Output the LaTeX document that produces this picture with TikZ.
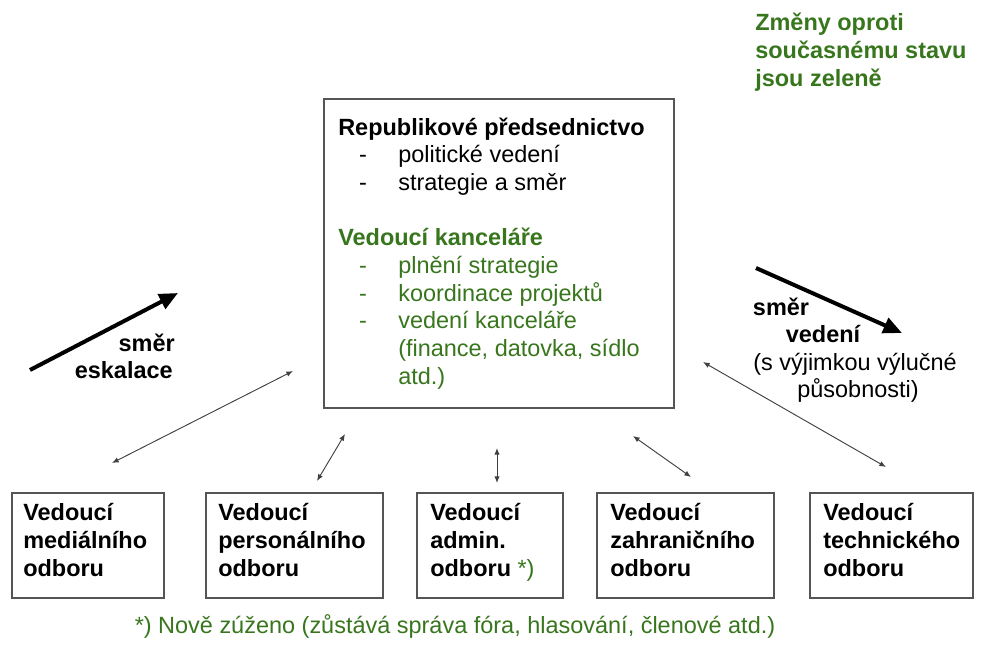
\documentclass[tikz,border=0pt]{standalone}
\usepackage{fontspec}
\setmainfont{Liberation Sans}
\usetikzlibrary{arrows.meta}
\definecolor{grn}{HTML}{38761D}
\definecolor{bord}{HTML}{555555}
\newcommand{\pxbox}[5]{\node[frame, minimum width={(#4-#2)*0.75pt}, minimum height={(#5-#3)*0.75pt}] (#1) at ({(#2+#4)/2},{(#3+#5)/2}) {};}
\tikzset{
  txt/.style={inner sep=0pt, font=\fontsize{17.6}{20.8}\selectfont},
  btxt/.style={inner sep=0pt, font=\fontsize{17.6}{20.8}\selectfont\bfseries},
  frame/.style={draw=bord, line width=1.1pt, inner sep=0pt},
  bigarrow/.style={line width=3pt, -{Triangle[length=14pt,width=12pt]}},
  dblarrow/.style={line width=0.7pt, draw=black!75, {Latex[length=5pt,width=4pt]}-{Latex[length=5pt,width=4pt]}},
}
\begin{document}
\begin{tikzpicture}[x=0.75pt,y=-0.75pt]
\useasboundingbox (0,0) rectangle (985,650);
% legend
\node[btxt, text=grn, anchor=base west] (l1) at (755,30) {Změny oproti};
\node[btxt, text=grn, anchor=base west] (l2) at (755,58) {současnému stavu};
\node[btxt, text=grn, anchor=base west] (l3) at (755,86) {jsou zeleně};
% main box
\pxbox{main}{324}{99}{674}{408}
\node[btxt, anchor=base west] (m1) at (338,135) {Republikové předsednictvo};
\node[txt, anchor=base] (d1) at (363,162.7) {-};
\node[txt, anchor=base west] (m2) at (398,162.7) {politické vedení};
\node[txt, anchor=base] (d2) at (363,190.4) {-};
\node[txt, anchor=base west] (m3) at (398,190.4) {strategie a směr};
\node[btxt, text=grn, anchor=base west] (m4) at (338,245.8) {Vedoucí kanceláře};
\node[txt, text=grn, anchor=base] (d3) at (363,273.5) {-};
\node[txt, text=grn, anchor=base west] (m5) at (398,273.5) {plnění strategie};
\node[txt, text=grn, anchor=base] (d4) at (363,301.2) {-};
\node[txt, text=grn, anchor=base west] (m6) at (398,301.2) {koordinace projektů};
\node[txt, text=grn, anchor=base] (d5) at (363,328.9) {-};
\node[txt, text=grn, anchor=base west] (m7) at (398,328.9) {vedení kanceláře};
\node[txt, text=grn, anchor=base west] (m8) at (398,356.6) {(finance, datovka, sídlo};
\node[txt, text=grn, anchor=base west] (m9) at (398,384.3) {atd.)};
% bottom boxes
\pxbox{b1}{12}{493}{164}{598}
\pxbox{b2}{206}{493}{383}{598}
\pxbox{b3}{417}{493}{563}{598}
\pxbox{b4}{597}{493}{774}{598}
\pxbox{b5}{810}{493}{973}{598}
\node[btxt, anchor=base west] (b1a) at (23,520) {Vedoucí};
\node[btxt, anchor=base west] (b1b) at (23,548) {mediálního};
\node[btxt, anchor=base west] (b1c) at (23,576) {odboru};
\node[btxt, anchor=base west] (b2a) at (218,520) {Vedoucí};
\node[btxt, anchor=base west] (b2b) at (218,548) {personálního};
\node[btxt, anchor=base west] (b2c) at (218,576) {odboru};
\node[btxt, anchor=base west] (b3a) at (430,520) {Vedoucí};
\node[btxt, anchor=base west] (b3b) at (430,548) {admin.};
\node[btxt, anchor=base west] (b3c) at (430,576) {odboru \textcolor{grn}{\mdseries*)}};
\node[btxt, anchor=base west] (b4a) at (610,520) {Vedoucí};
\node[btxt, anchor=base west] (b4b) at (610,548) {zahraničního};
\node[btxt, anchor=base west] (b4c) at (610,576) {odboru};
\node[btxt, anchor=base west] (b5a) at (823,520) {Vedoucí};
\node[btxt, anchor=base west] (b5b) at (823,548) {technického};
\node[btxt, anchor=base west] (b5c) at (823,576) {odboru};
% footnote
\node[txt, text=grn, anchor=base] (fn) at (455,633) {*) Nově zúženo (zůstává správa fóra, hlasování, členové atd.)};
% escalation arrow
\coordinate (e1) at (30,370);
\coordinate (e2) at (178,293);
\draw[bigarrow] (e1) -- (e2);
\node[btxt, anchor=base east] (es1) at (175,351) {směr};
\node[btxt, anchor=base east] (es2) at (173,378) {eskalace};
% leadership arrow
\coordinate (v1) at (756,268);
\coordinate (v2) at (902,333);
\draw[bigarrow] (v1) -- (v2);
\node[btxt, anchor=base] (vs1) at (781,315) {směr};
\node[btxt, anchor=base] (vs2) at (823,342) {vedení};
\node[txt, anchor=base] (vs3) at (855,370) {(s výjimkou výlučné};
\node[txt, anchor=base] (vs4) at (858,397) {působnosti)};
% thin double arrows
\coordinate (a1s) at (112,463); \coordinate (a1e) at (293,371);
\coordinate (a2s) at (317,481); \coordinate (a2e) at (345,434);
\coordinate (a3s) at (497,483); \coordinate (a3e) at (497,448);
\coordinate (a4s) at (691,477); \coordinate (a4e) at (633,436);
\coordinate (a5s) at (886,467); \coordinate (a5e) at (703,362);
\draw[dblarrow] (a1s) -- (a1e);
\draw[dblarrow] (a2s) -- (a2e);
\draw[dblarrow] (a3s) -- (a3e);
\draw[dblarrow] (a4s) -- (a4e);
\draw[dblarrow] (a5s) -- (a5e);
\end{tikzpicture}
\end{document}
